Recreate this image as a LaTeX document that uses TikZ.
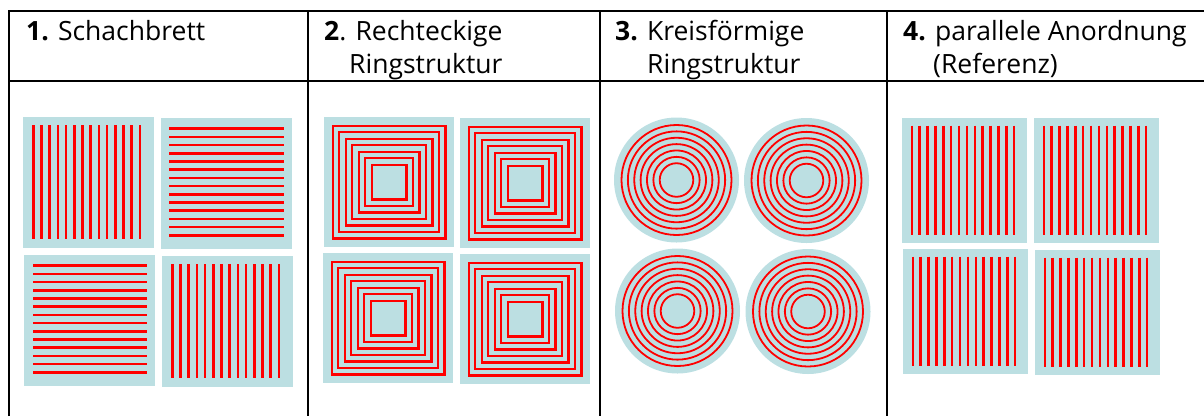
\documentclass[tikz,border=0pt]{standalone}
\usepackage{fontspec}
\setmainfont{Open Sans}
\definecolor{tilebg}{RGB}{188,223,226}
\definecolor{ringred}{RGB}{255,0,0}
\tikzset{
  tablerule/.style={line width=1.6pt, black},
  tile/.style={fill=tilebg, draw=none},
  stripe/.style={ringred, line width=2.5pt},
  sqring/.style={ringred, line width=2.4pt},
  cring/.style={ringred, line width=1.8pt},
  head/.style={anchor=base west, inner sep=0pt, font=\fontsize{26.5}{30}\selectfont}
}
\begin{document}
\begin{tikzpicture}[x=1pt,y=-1pt]
\useasboundingbox (0,0) rectangle (1204,416);
% table
\draw[tablerule] (9,416) -- (9,11) -- (1204,11);
\draw[tablerule] (9,81) -- (1204,81);
\foreach \cx in {308,600,887} \draw[tablerule] (\cx,11) -- (\cx,416);
% headers
\node[head] (h1) at (26,40.5) {\textbf{1.} Schachbrett};
\node[head] (h2a) at (324,40.5) {\textbf{2}. Rechteckige};
\node[head] (h2b) at (349,73) {Ringstruktur};
\node[head] (h3a) at (615,40.5) {\textbf{3.} Kreisförmige};
\node[head] (h3b) at (647,73) {Ringstruktur};
\node[head] (h4a) at (903,40.5) {\textbf{4.} parallele Anordnung};
\node[head] (h4b) at (933,73) {(Referenz)};
% column 1: checkerboard
\fill[tile] (23,117) rectangle ++(131,131);
\foreach \i in {0,...,13} \draw[stripe] ({23+10.3+8.2*\i},125) -- ++(0,114);
\fill[tile] (161,118) rectangle ++(131,131);
\foreach \i in {0,...,13} \draw[stripe] (169,{118+10.7+8.2*\i}) -- ++(115,0);
\fill[tile] (24,255) rectangle ++(131,131);
\foreach \i in {0,...,13} \draw[stripe] (33,{255+10.7+8.2*\i}) -- ++(114,0);
\fill[tile] (162,256) rectangle ++(131,131);
\foreach \i in {0,...,13} \draw[stripe] ({162+10.3+8.2*\i},264.3) -- ++(0,114);
% column 2: rectangular rings
\foreach \tx/\ty in {324/117, 460/118, 323/253, 460/254} {
  \fill[tile] (\tx,\ty) rectangle ++(130,130);
  \foreach \k in {0,...,6} {
    \pgfmathsetmacro{\hs}{56.3-6.5*\k}
    \draw[sqring] ({\tx+65-\hs},{\ty+65-\hs}) rectangle ({\tx+65+\hs},{\ty+65+\hs});
  }
}
% column 3: circular rings
\foreach \cx/\cy in {676.5/180, 806.5/180.5, 677.5/311, 808/311.5} {
  \fill[tile] (\cx,\cy) circle[radius=62.5];
  \foreach \k in {0,...,6} {
    \pgfmathsetmacro{\rr}{55-6.37*\k}
    \draw[cring] (\cx,\cy) circle[radius=\rr];
  }
}
% column 4: parallel reference
\foreach \tx/\ty in {902/118, 1034/118, 903/249, 1035/250} {
  \fill[tile] (\tx,\ty) rectangle ++(125,125);
  \foreach \i in {0,...,13} \draw[stripe] ({\tx+9.8+7.87*\i},{\ty+7.5}) -- ++(0,109);
}
\end{tikzpicture}
\end{document}
